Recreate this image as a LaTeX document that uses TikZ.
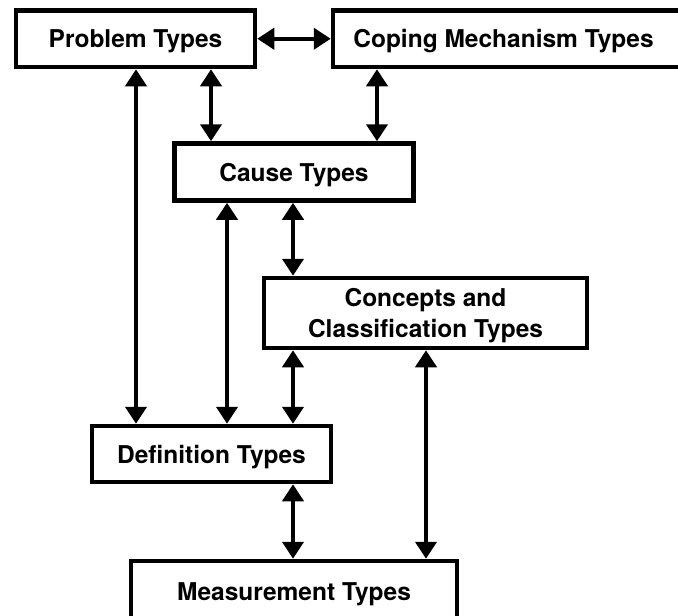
\documentclass[tikz,border=0pt]{standalone}
\usepackage{fontspec}
\setmainfont{TeX Gyre Heros}
\usetikzlibrary{arrows.meta}
\begin{document}
\begin{tikzpicture}[x=1pt,y=-1pt,
  box/.style={draw=black,line width=4.5pt,fill=white,inner sep=0pt,align=center,
    text depth=0pt,font=\fontsize{24.5}{31}\selectfont\bfseries},
  tip/.tip={Triangle[width=21pt,length=17pt]},
  biarrow/.style={line width=4pt,tip-tip}]
  \useasboundingbox (0,0) rectangle (678,616);
  \clip (0,0) rectangle (678,616);
  % boxes
  \node[box,minimum width=239pt,minimum height=56.5pt] (prob) at (135.5,38.75) {Problem Types};
  \node[box,minimum width=349pt,minimum height=56.5pt] (cope) at (507.5,38.75) {\hspace*{-4pt}Coping Mechanism Types\hspace*{4pt}};
  \node[box,minimum width=239pt,minimum height=57pt] (cause) at (294,172) {Cause Types};
  \node[box,minimum width=323pt,minimum height=70pt] (conc) at (425.5,313) {Concepts and\\Classification Types};
  \node[box,minimum width=239pt,minimum height=56pt] (defn) at (211.5,454) {Definition Types};
  \node[box,minimum width=326pt,minimum height=61pt] (meas) at (294,591.5) {Measurement Types};
  % connectors
  \draw[biarrow] (prob.east) -- (cope.west |- prob.east);
  \draw[biarrow] (136,0 |- prob.south) -- (136,0 |- defn.north);
  \draw[biarrow] (211,0 |- prob.south) -- (211,0 |- cause.north);
  \draw[biarrow] (377,0 |- cope.south) -- (377,0 |- cause.north);
  \draw[biarrow] (227,0 |- cause.south) -- (227,0 |- defn.north);
  \draw[biarrow] (293,0 |- cause.south) -- (293,0 |- conc.north);
  \draw[biarrow] (293,0 |- conc.south) -- (293,0 |- defn.north);
  \draw[biarrow] (426,0 |- conc.south) -- (426,0 |- meas.north);
  \draw[biarrow] (293,0 |- defn.south) -- (293,0 |- meas.north);
\end{tikzpicture}
\end{document}
